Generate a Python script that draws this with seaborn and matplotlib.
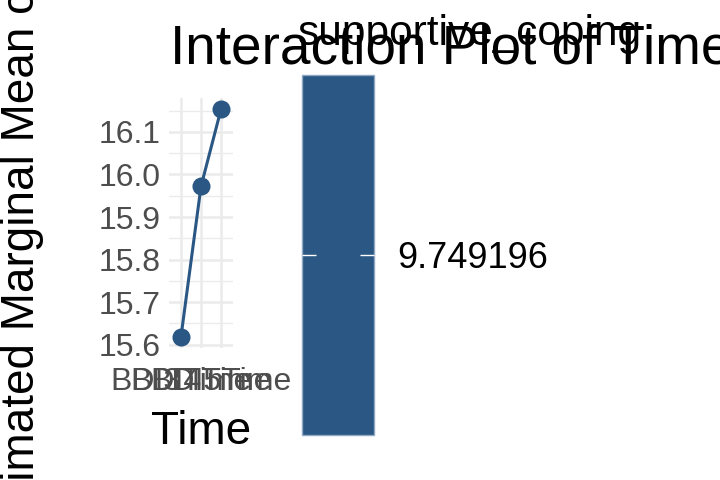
import matplotlib
matplotlib.use('Agg')
import matplotlib.pyplot as plt
import seaborn as sns
import pandas as pd
import numpy as np
from matplotlib.colors import ListedColormap, Normalize
from matplotlib.ticker import MultipleLocator, FormatStrFormatter

# estimated marginal means
time_levels = ['BDI3Time', 'BDI4Time', 'BDI5Time']
emm_values = [15.619, 15.972, 16.153]
coping_value = 9.749196
coping_label = '9.749196'

blue = '#2A5783'
grid_col = '#EBEBEB'

sns.set_theme(style='white')
plt.rcParams['font.family'] = ['Liberation Sans', 'DejaVu Sans']

data = pd.DataFrame({'Time': time_levels, 'emmean': emm_values,
                     'supportive_coping': [coping_value] * len(time_levels)})

fig = plt.figure(figsize=(7.2, 4.8), dpi=100)
ax = fig.add_axes([169 / 720, 1 - 348 / 480, 64 / 720, 250 / 480])

sns.lineplot(data=data, x='Time', y='emmean', color=blue, marker='o',
             markersize=13, markeredgewidth=0, linewidth=2.2, ax=ax, zorder=3)

# ggplot-like expansion of scales
ax.set_xlim(-0.6, len(time_levels) - 0.4)
lo, hi = min(emm_values), max(emm_values)
pad = (hi - lo) * 0.05
ax.set_ylim(lo - pad, hi + pad)
ax.yaxis.set_major_locator(MultipleLocator(0.1))
ax.yaxis.set_minor_locator(MultipleLocator(0.05))
ax.yaxis.set_major_formatter(FormatStrFormatter('%.1f'))

ax.grid(which='major', color=grid_col, linewidth=1.8)
ax.grid(which='minor', axis='y', color=grid_col, linewidth=1.0)
ax.set_axisbelow(True)
for s in ax.spines.values():
    s.set_visible(False)
ax.tick_params(axis='both', which='both', length=0, labelsize=23, colors='#4D4D4D')
ax.tick_params(axis='x', pad=14)
ax.tick_params(axis='y', pad=6)

ax.set_xlabel('Time', fontsize=33, color='black', labelpad=9)
ax.set_ylabel('Estimated Marginal Mean of DV', fontsize=33, color='black')
ax.yaxis.set_label_coords(-1.95, 0.5)

fig.text(170 / 720, 1 - 64 / 480, 'Interaction Plot of Time and supportive_coping',
         fontsize=39.5, ha='left', va='baseline', color='black')

# colourbar legend for the single supportive_coping value
cax = fig.add_axes([302 / 720, 1 - 435 / 480, 72 / 720, 360 / 480])
sm = plt.cm.ScalarMappable(cmap=ListedColormap([blue]),
                           norm=Normalize(vmin=coping_value - 1, vmax=coping_value + 1))
cb = fig.colorbar(sm, cax=cax, ticks=[coping_value])
cb.ax.set_yticklabels([coping_label])
cb.outline.set_edgecolor('#8FA8C4')
cb.outline.set_linewidth(1.0)
cax.set_axisbelow(False)
cax.tick_params(axis='y', direction='in', left=True, right=True, colors='white',
                length=10, width=1.0, labelsize=26, labelcolor='black', pad=17)
fig.text(298 / 720, 1 - 45 / 480, 'supportive_coping', fontsize=30.5,
         ha='left', va='baseline', color='black')

plt.savefig('out.png', dpi=100)
